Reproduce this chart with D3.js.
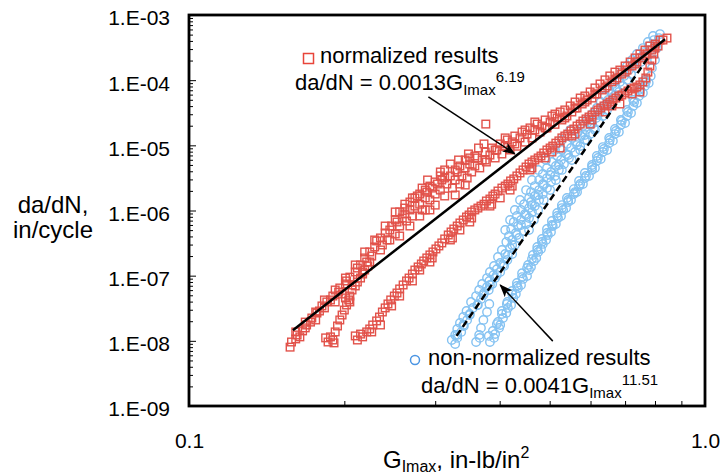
<!DOCTYPE html>
<html>
<head>
<meta charset="utf-8">
<script src="https://cdn.jsdelivr.net/npm/d3@7"></script>
<style>
  body { margin: 0; background: #fff; }
  text { font-family: "Liberation Sans", Arial, Helvetica, sans-serif; fill: #000; }
</style>
</head>
<body>
<div id="chart"></div>
<script>
// values, [G_Imax (in-lb/in^2), da/dN (in/cycle)]

// normalized results, upper band
var normBandA = [[0.157,8.0e-9],[0.158,9.6e-9],[0.161,1.07e-8],[0.162,1.23e-8],[0.164,1.15e-8],[0.166,1.42e-8],[0.168,1.58e-8],[0.169,1.75e-8],[0.172,1.94e-8],[0.173,2.24e-8],[0.176,2.09e-8],[0.177,2.67e-8],[0.179,2.87e-8],[0.181,3.43e-8],[0.183,3.2e-8],[0.185,3.95e-8],[0.188,4.24e-8],[0.190,4.87e-8],[0.192,3.95e-8],[0.195,5.6e-8],[0.196,6.47e-8],[0.198,5.23e-8],[0.201,7.46e-8],[0.202,8.3e-8],[0.205,9.5e-8],[0.207,7.2e-8],[0.210,1.14e-7],[0.212,1.31e-7],[0.215,1.46e-7],[0.217,1.14e-7],[0.219,1.87e-7],[0.221,1.62e-7],[0.224,2.31e-7],[0.226,2.0e-7],[0.229,2.76e-7],[0.231,3.41e-7],[0.235,3.79e-7],[0.237,2.96e-7],[0.240,4.52e-7],[0.242,3.53e-7],[0.245,5.02e-7],[0.247,5.78e-7],[0.251,4.36e-7],[0.253,6.66e-7],[0.256,5.78e-7],[0.259,7.67e-7],[0.262,8.84e-7],[0.264,6.9e-7],[0.268,1.02e-6],[0.271,8.23e-7],[0.274,1.17e-6],[0.277,1.67e-6],[0.280,1.25e-6],[0.283,1.02e-6],[0.287,1.56e-6],[0.289,1.92e-6],[0.293,1.45e-6],[0.296,2.21e-6],[0.300,1.79e-6],[0.303,2.55e-6],[0.307,2.06e-6],[0.309,2.94e-6],[0.313,1.67e-6],[0.316,2.55e-6],[0.321,3.39e-6],[0.324,2.21e-6],[0.328,2.94e-6],[0.331,3.9e-6],[0.335,2.55e-6],[0.338,3.39e-6],[0.343,4.5e-6],[0.346,3.15e-6],[0.350,5.17e-6],[0.353,3.9e-6],[0.358,4.82e-6],[0.362,6.4e-6],[0.366,4.5e-6],[0.370,5.96e-6],[0.375,7.9e-6],[0.376,2.12e-5],[0.373,1.05e-5],[0.377,5.55e-6],[0.383,7.1e-6],[0.386,9.1e-6],[0.392,6.4e-6],[0.395,8.48e-6],[0.401,1.05e-5],[0.404,7.37e-6],[0.410,9.75e-6],[0.414,1.21e-5],[0.419,8.48e-6],[0.423,1.13e-5],[0.428,1.39e-5],[0.432,9.7e-6],[0.438,1.3e-5],[0.442,1.6e-5],[0.448,1.12e-5],[0.452,1.49e-5],[0.458,1.85e-5],[0.462,1.3e-5],[0.468,1.72e-5],[0.473,2.12e-5],[0.479,1.6e-5],[0.483,1.98e-5],[0.490,2.45e-5],[0.494,1.85e-5],[0.501,2.28e-5],[0.505,2.82e-5],[0.512,2.1e-5],[0.517,2.63e-5],[0.524,3.25e-5],[0.528,2.45e-5],[0.535,3.49e-5],[0.540,2.82e-5],[0.548,4.02e-5],[0.552,3.25e-5],[0.560,4.62e-5],[0.565,3.74e-5],[0.573,5.32e-5],[0.578,4.31e-5],[0.585,5.72e-5],[0.591,4.96e-5],[0.599,6.59e-5],[0.604,5.32e-5],[0.612,7.59e-5],[0.617,6.14e-5],[0.626,8.74e-5],[0.632,7.07e-5],[0.640,1.01e-4],[0.646,8.15e-5],[0.654,1.16e-4],[0.660,9.4e-5],[0.669,1.33e-4],[0.675,1.08e-4],[0.684,1.43e-4],[0.690,1.24e-4],[0.700,1.65e-4],[0.706,1.43e-4],[0.716,1.9e-4],[0.722,1.65e-4],[0.732,2.19e-4],[0.738,1.9e-4],[0.748,2.52e-4],[0.755,2.19e-4],[0.765,2.9e-4],[0.772,2.52e-4],[0.782,3.34e-4],[0.789,2.9e-4],[0.800,3.58e-4],[0.811,3.34e-4],[0.818,4.13e-4],[0.829,4.13e-4],[0.844,4.43e-4],
  [0.313,4.19e-6],[0.328,1.73e-6],[0.343,2.46e-6],[0.300,1.21e-6],[0.287,1.02e-6],[0.251,9.5e-7],[0.262,1.25e-6],[0.271,1.56e-6],[0.283,2.21e-6],[0.290,2.94e-6],[0.307,3.9e-6],[0.321,5.17e-6],[0.333,5.96e-6],[0.348,7.37e-6],[0.364,9.1e-6],[0.245,3.53e-7],[0.256,4.06e-7],[0.268,5.78e-7],[0.280,8.23e-7],[0.293,1.02e-6],[0.235,2.48e-7],
  [0.161,1.37e-8],[0.168,1.94e-8],[0.176,2.77e-8],[0.183,4.24e-8],[0.192,6.03e-8],[0.201,9.2e-8],[0.210,1.46e-7],[0.219,2.31e-7],[0.229,3.53e-7],[0.240,5.78e-7],[0.251,7.15e-7],[0.262,1.09e-6],[0.274,1.56e-6],[0.287,2.06e-6],[0.300,2.74e-6],[0.313,3.15e-6],[0.328,4.19e-6],[0.343,5.96e-6],[0.358,6.86e-6],[0.375,5.96e-6],[0.392,8.48e-6],[0.410,1.3e-5],[0.428,1.05e-5],[0.448,1.72e-5],[0.468,2.28e-5],[0.490,1.85e-5],[0.512,3.02e-5],[0.535,2.63e-5],[0.560,3.74e-5],[0.585,4.62e-5],[0.612,6.14e-5],[0.640,7.59e-5],[0.669,1.01e-4],[0.700,1.33e-4],[0.732,1.77e-4],[0.765,2.35e-4],[0.800,3.11e-4],
  [0.307,3.39e-6],[0.335,4.82e-6],[0.350,6.4e-6],[0.293,2.37e-6],[0.280,1.79e-6],[0.268,1.35e-6],[0.256,9.5e-7]]

// normalized results, short band joining the upper one
var normBandB = [[0.186,9.6e-9],[0.188,1.15e-8],[0.190,1.03e-8],[0.192,1.37e-8],[0.194,1.69e-8],[0.196,2.09e-8],[0.198,2.49e-8],[0.200,2.97e-8],[0.202,3.55e-8],[0.204,4.24e-8],[0.205,4.87e-8],[0.207,6.03e-8],[0.210,6.95e-8],[0.212,8.0e-8],[0.215,9.2e-8],[0.217,1.06e-7],[0.219,1.22e-7],[0.222,1.41e-7],[0.224,1.62e-7],[0.184,1.11e-8],[0.191,9.3e-9],[0.201,4.55e-8],[0.205,3.95e-8]]

// normalized results, lower band
var normBandC = [[0.210,1.19e-8],[0.212,1.03e-8],[0.215,1.27e-8],[0.217,1.15e-8],[0.221,1.37e-8],[0.224,1.52e-8],[0.227,1.75e-8],[0.231,2.02e-8],[0.234,2.32e-8],[0.237,2.77e-8],[0.240,3.2e-8],[0.243,3.68e-8],[0.246,4.24e-8],[0.250,4.87e-8],[0.253,5.42e-8],[0.256,6.25e-8],[0.260,7.2e-8],[0.264,8.3e-8],[0.267,9.2e-8],[0.271,1.06e-7],[0.274,1.22e-7],[0.278,1.36e-7],[0.282,1.51e-7],[0.285,1.68e-7],[0.289,1.87e-7],[0.293,2.08e-7],[0.297,2.31e-7],[0.301,2.57e-7],[0.305,2.86e-7],[0.309,3.18e-7],[0.313,3.66e-7],[0.318,4.21e-7],[0.322,4.68e-7],[0.326,5.2e-7],[0.331,5.78e-7],[0.335,6.43e-7],[0.340,7.15e-7],[0.345,7.95e-7],[0.349,8.53e-7],[0.353,9.5e-7],[0.358,1.02e-6],[0.363,1.09e-6],[0.368,1.17e-6],[0.373,1.25e-6],[0.377,1.4e-6],[0.383,1.5e-6],[0.388,1.67e-6],[0.392,1.79e-6],[0.397,1.99e-6],[0.404,2.21e-6],[0.410,2.37e-6],[0.415,2.55e-6],[0.420,2.84e-6],[0.426,3.05e-6],[0.432,3.39e-6],[0.438,3.77e-6],[0.444,4.19e-6],[0.450,4.65e-6],[0.456,5.17e-6],[0.462,5.55e-6],[0.468,5.96e-6],[0.475,6.4e-6],[0.481,6.86e-6],[0.487,7.63e-6],[0.494,8.48e-6],[0.501,9.1e-6],[0.507,9.75e-6],[0.514,1.08e-5],[0.521,1.17e-5],[0.528,1.3e-5],[0.535,1.39e-5],[0.542,1.49e-5],[0.550,1.66e-5],[0.557,1.78e-5],[0.565,1.98e-5],[0.573,2.12e-5],[0.580,2.36e-5],[0.588,2.54e-5],[0.596,2.72e-5],[0.604,2.92e-5],[0.612,3.25e-5],[0.620,3.49e-5],[0.628,3.74e-5],[0.637,4.02e-5],[0.646,4.31e-5],[0.654,4.62e-5],[0.663,4.96e-5],[0.672,5.32e-5],[0.681,5.72e-5],[0.690,5.93e-5],[0.700,6.36e-5],[0.709,6.82e-5],[0.719,7.32e-5],[0.729,7.59e-5],[0.738,7.87e-5],[0.748,8.44e-5],[0.758,9.4e-5],[0.768,1.08e-4],[0.775,1.33e-4],[0.782,1.65e-4],[0.789,2.04e-4],[0.796,2.52e-4],
  [0.293,1.62e-7],[0.321,3.53e-7],[0.350,6.66e-7],[0.383,1.17e-6],[0.419,2.06e-6],[0.458,4.19e-6],[0.524,9.1e-6],[0.599,2.12e-5],[0.684,4.31e-5],[0.748,6.59e-5],[0.256,4.87e-8],[0.235,1.75e-8],[0.280,1.22e-7],[0.335,5.02e-7],[0.401,1.56e-6],[0.490,6.4e-6],[0.560,1.49e-5],[0.640,3.25e-5],
  [0.226,1.37e-8],[0.247,3.43e-8],[0.271,8.3e-8],[0.296,1.87e-7],[0.324,3.79e-7],[0.353,7.67e-7],[0.386,1.25e-6],[0.423,2.37e-6],[0.462,4.5e-6],[0.505,7.9e-6],[0.552,1.39e-5],[0.604,2.45e-5],[0.660,4.02e-5],[0.722,6.14e-5]]

// non-normalized results, left band
var rawBandD = [[0.328,8.94e-9],[0.323,1.03e-8],[0.331,1.11e-8],[0.328,1.23e-8],[0.337,1.37e-8],[0.331,1.52e-8],[0.341,1.69e-8],[0.335,1.88e-8],[0.346,2.09e-8],[0.340,2.32e-8],[0.350,2.58e-8],[0.345,2.87e-8],[0.355,3.2e-8],[0.363,3.55e-8],[0.352,3.95e-8],[0.368,4.39e-8],[0.360,4.87e-8],[0.373,5.42e-8],[0.365,6.03e-8],[0.381,6.03e-8],[0.378,6.7e-8],[0.370,7.46e-8],[0.387,7.46e-8],[0.382,8.3e-8],[0.392,9.2e-8],[0.378,9.2e-8],[0.389,1.02e-7],[0.401,1.14e-7],[0.383,1.14e-7],[0.395,1.26e-7],[0.408,1.41e-7],[0.390,1.41e-7],[0.401,1.57e-7],[0.414,1.74e-7],[0.397,1.94e-7],[0.410,2.15e-7],[0.423,2.15e-7],[0.404,2.48e-7],[0.419,2.66e-7],[0.428,2.96e-7],[0.412,3.29e-7],[0.423,3.53e-7],[0.436,3.79e-7],[0.417,4.06e-7],[0.430,4.52e-7],[0.446,4.85e-7],[0.421,5.2e-7],[0.434,5.78e-7],[0.450,6.2e-7],[0.426,6.66e-7],[0.440,7.15e-7],[0.456,7.67e-7],[0.432,8.23e-7],[0.448,8.84e-7],[0.462,9.5e-7],[0.440,1.02e-6],[0.456,1.09e-6],[0.468,1.17e-6],[0.446,1.25e-6],[0.460,1.35e-6],[0.477,1.45e-6],[0.456,1.56e-6],[0.468,1.67e-6],[0.485,1.79e-6],[0.460,1.92e-6],[0.477,2.06e-6],[0.494,2.21e-6],[0.468,2.37e-6],[0.485,2.55e-6],[0.503,2.74e-6],[0.477,2.94e-6],[0.494,3.15e-6],[0.512,3.39e-6],[0.485,3.64e-6],[0.503,3.9e-6],[0.521,4.19e-6],[0.494,4.5e-6],[0.514,4.82e-6],[0.533,5.17e-6],[0.505,5.55e-6],[0.526,5.96e-6],[0.545,6.4e-6],[0.517,6.86e-6],[0.538,7.37e-6],[0.560,7.9e-6],[0.528,8.48e-6],[0.550,9.1e-6],[0.573,9.75e-6],[0.540,1.05e-5],[0.562,1.13e-5],[0.585,1.21e-5],[0.552,1.3e-5],[0.575,1.39e-5],[0.599,1.49e-5],[0.567,1.6e-5],[0.588,1.72e-5],[0.609,1.85e-5],[0.580,1.98e-5],[0.604,2.12e-5],[0.623,2.28e-5],[0.591,2.45e-5],[0.615,2.63e-5],[0.634,2.82e-5],[0.604,3.02e-5],[0.626,3.25e-5],[0.646,3.49e-5],[0.617,3.74e-5],[0.637,4.02e-5],[0.657,4.31e-5],[0.628,4.62e-5],[0.649,4.96e-5],[0.669,5.32e-5],[0.640,5.72e-5],[0.660,6.14e-5],[0.681,6.59e-5],[0.652,7.07e-5],[0.672,7.59e-5],[0.693,8.15e-5],[0.663,8.74e-5],[0.684,9.4e-5],[0.706,1.01e-4],[0.675,1.08e-4],[0.697,1.16e-4],[0.719,1.24e-4],[0.690,1.33e-4],[0.712,1.43e-4],[0.735,1.53e-4],[0.706,1.65e-4],[0.729,1.77e-4],[0.751,1.9e-4],[0.722,2.04e-4],[0.745,2.19e-4],[0.768,2.35e-4],[0.738,2.52e-4],[0.761,2.7e-4],[0.785,2.9e-4],[0.758,3.11e-4],[0.778,3.34e-4],[0.804,3.58e-4],[0.775,3.85e-4],[0.796,4.13e-4],[0.814,4.43e-4],[0.793,4.76e-4],[0.818,5.1e-4],
  [0.331,1.23e-8],[0.340,1.75e-8],[0.350,2.49e-8],[0.362,3.55e-8],[0.372,5.05e-8],[0.383,7.2e-8],[0.395,1.02e-7],[0.406,1.46e-7],[0.415,2.08e-7],[0.423,2.96e-7],[0.432,4.21e-7],[0.440,5.99e-7],[0.450,8.53e-7],[0.462,1.21e-6],[0.475,1.73e-6],[0.487,2.46e-6],[0.501,3.51e-6],[0.521,4.99e-6],[0.543,7.11e-6],[0.565,1.01e-5],[0.585,1.44e-5],[0.599,2.05e-5],[0.620,2.92e-5],[0.646,4.16e-5],[0.669,5.93e-5],
  [0.410,5.02e-7],[0.419,7.15e-7],[0.428,1.02e-6],[0.438,1.45e-6],[0.450,2.06e-6],[0.462,2.94e-6],[0.475,4.19e-6],[0.492,5.96e-6],[0.512,8.48e-6],[0.528,1.21e-5],[0.548,1.72e-5],
  [0.456,5.02e-7],[0.466,7.15e-7],[0.475,1.02e-6],[0.487,1.45e-6],[0.501,2.06e-6],[0.514,2.94e-6],[0.528,4.19e-6],[0.552,5.96e-6],[0.573,8.48e-6],[0.591,1.21e-5],[0.612,1.72e-5]]

// non-normalized results, right band
var rawBandE = [[0.383,9.6e-9],[0.390,1.11e-8],[0.388,1.42e-8],[0.399,1.58e-8],[0.397,1.95e-8],[0.406,2.24e-8],[0.404,2.87e-8],[0.415,3.2e-8],[0.414,3.95e-8],[0.425,4.55e-8],[0.423,5.82e-8],[0.434,6.47e-8],[0.432,7.73e-8],[0.444,8.9e-8],[0.442,1.09e-7],[0.456,1.22e-7],[0.454,1.46e-7],[0.466,1.68e-7],[0.464,2.08e-7],[0.475,2.31e-7],[0.473,2.76e-7],[0.485,3.07e-7],[0.483,3.66e-7],[0.496,4.21e-7],[0.494,5.2e-7],[0.507,5.78e-7],[0.505,6.9e-7],[0.519,7.67e-7],[0.517,9.15e-7],[0.531,1.02e-6],[0.528,1.21e-6],[0.543,1.35e-6],[0.540,1.56e-6],[0.557,1.79e-6],[0.557,2.13e-6],[0.570,2.37e-6],[0.570,2.84e-6],[0.585,3.15e-6],[0.585,3.77e-6],[0.604,4.19e-6],[0.604,4.99e-6],[0.617,5.75e-6],[0.617,6.86e-6],[0.634,7.9e-6],[0.634,9.4e-6],[0.652,1.08e-5],[0.652,1.3e-5],[0.669,1.49e-5],[0.669,1.78e-5],[0.687,2.05e-5],[0.687,2.45e-5],[0.706,2.82e-5],[0.706,3.49e-5],[0.726,4.02e-5],[0.726,4.96e-5],[0.745,5.72e-5],[0.745,7.07e-5],[0.765,8.15e-5],[0.765,1.01e-4],[0.785,1.16e-4],[0.789,1.53e-4],[0.800,2.04e-4],[0.807,3.11e-4],
  [0.392,1.27e-8],[0.401,1.75e-8],[0.412,2.67e-8],[0.421,3.55e-8],[0.430,5.23e-8],[0.440,7.2e-8],[0.452,9.85e-8],[0.460,1.36e-7],[0.471,1.87e-7],[0.481,2.57e-7],[0.492,3.53e-7],[0.503,4.68e-7],[0.514,6.2e-7],[0.526,8.23e-7],[0.538,1.09e-6],[0.550,1.45e-6],[0.565,1.92e-6],[0.580,2.55e-6],[0.596,3.39e-6],[0.612,4.5e-6],[0.628,6.17e-6],[0.646,8.48e-6],[0.663,1.17e-5],[0.681,1.6e-5],[0.700,2.2e-5],[0.719,3.13e-5],[0.738,4.46e-5],[0.758,6.36e-5],[0.778,9.06e-5],
  [0.381,1.19e-8],[0.395,1.81e-8],[0.404,2.58e-8],[0.413,3.68e-8],[0.423,5.23e-8],[0.432,6.95e-8],[0.442,9.5e-8],[0.452,1.31e-7],[0.462,1.8e-7],[0.473,2.48e-7],[0.483,3.29e-7],[0.494,4.52e-7],[0.505,5.99e-7],[0.517,8.23e-7],[0.528,1.09e-6],[0.543,1.45e-6],[0.560,1.92e-6],[0.573,2.55e-6],[0.588,3.39e-6],[0.604,4.65e-6],[0.620,6.4e-6],[0.637,8.78e-6],[0.654,1.21e-5],[0.672,1.66e-5],[0.690,2.36e-5],[0.709,3.25e-5],[0.729,4.62e-5],[0.748,6.59e-5],[0.768,9.4e-5]]

// non-normalized results, short middle band
var rawBandF = [[0.360,9.6e-9],[0.365,1.23e-8],[0.368,1.58e-8],[0.372,2.09e-8],[0.378,2.77e-8],[0.382,3.68e-8],[0.366,1.11e-8]]

// power law fit lines, end points
var normFit = [[0.159, 1.45e-8], [0.837, 4.25e-4]]
var rawFit = [[0.330, 1.19e-8], [0.782, 2.43e-4]]

// arrows of the two annotations: [from, to]
var normArrow = [[0.291, 5.53e-5], [0.428, 7.4e-6]]
var rawArrow = [[0.507, 9.9e-9], [0.401, 7.2e-8]]

var xLabels = [0.1, 1]
var yLabels = [1e-9, 1e-8, 1e-7, 1e-6, 1e-5, 1e-4, 1e-3]

var W = 722, H = 476
var margin = { top: 15, right: 17, bottom: 70, left: 189 }
var red = '#e2524a', blue = '#84c2f2'

var svg = d3.select('#chart').append('svg')
  .attr('width', W).attr('height', H)

var x = d3.scaleLog().domain([0.1, 1]).range([margin.left, W - margin.right])
var y = d3.scaleLog().domain([1e-9, 1e-3]).range([H - margin.bottom, margin.top])

// minor / major ticks pointing inwards
var yMinor = y.ticks().filter(function(d) { return yLabels.indexOf(d) < 0 })
svg.append('g').attr('transform', 'translate(' + margin.left + ',0)')
  .call(d3.axisRight(y).tickValues(yMinor).tickSize(4).tickFormat(''))
  .call(function(g) { g.select('.domain').remove() })
svg.append('g').attr('transform', 'translate(' + margin.left + ',0)')
  .call(d3.axisRight(y).tickValues(yLabels).tickSize(7).tickFormat(''))
  .call(function(g) { g.select('.domain').remove() })
var xMinor = x.ticks().filter(function(d) { return d > 0.15 && d < 0.95 })
svg.append('g').attr('transform', 'translate(0,' + y(1e-9) + ')')
  .call(d3.axisTop(x).tickValues(xMinor).tickSize(5).tickFormat(''))
  .call(function(g) { g.select('.domain').remove() })

// tick labels
var yAxis = svg.append('g').attr('transform', 'translate(' + margin.left + ',0)')
  .call(d3.axisLeft(y).tickValues(yLabels).tickSize(0).tickPadding(19)
    .tickFormat(function(d) { return '1.E-' + String(Math.round(-Math.log10(d))).padStart(2, '0') }))
yAxis.select('.domain').remove()
yAxis.attr('font-size', 21).attr('font-family', null)
yAxis.selectAll('text').attr('dy', '0.47em').attr('fill', '#000')

var xAxis = svg.append('g').attr('transform', 'translate(0,' + y(1e-9) + ')')
  .call(d3.axisBottom(x).tickValues(xLabels).tickSize(0).tickPadding(27)
    .tickFormat(d3.format('.1f')))
xAxis.select('.domain').remove()
xAxis.attr('font-size', 21).attr('font-family', null)
xAxis.selectAll('text').attr('fill', '#000')

// data marks: blue circles first, red squares over them
var rawAll = rawBandD.concat(rawBandF, rawBandE)
svg.append('g').selectAll('circle')
  .data(rawAll).enter().append('circle')
  .attr('cx', function(d) { return x(d[0]) })
  .attr('cy', function(d) { return y(d[1]) })
  .attr('r', 4.2)
  .attr('fill', 'none')
  .attr('stroke', blue)
  .attr('stroke-width', 1.4)

var normAll = normBandA.concat(normBandB, normBandC)
var sq = 7.6
svg.append('g').selectAll('rect')
  .data(normAll).enter().append('rect')
  .attr('x', function(d) { return x(d[0]) - sq / 2 })
  .attr('y', function(d) { return y(d[1]) - sq / 2 })
  .attr('width', sq).attr('height', sq)
  .attr('fill', 'none')
  .attr('stroke', red)
  .attr('stroke-width', 1.4)

// fit lines
var line = d3.line().x(function(d) { return x(d[0]) }).y(function(d) { return y(d[1]) })
svg.append('path').datum(normFit).attr('d', line)
  .attr('stroke', '#000').attr('stroke-width', 2.5).attr('fill', 'none')
svg.append('path').datum(rawFit).attr('d', line)
  .attr('stroke', '#000').attr('stroke-width', 2.5).attr('fill', 'none')
  .attr('stroke-dasharray', '7,4')

// frame
svg.append('rect')
  .attr('x', margin.left).attr('y', margin.top)
  .attr('width', W - margin.right - margin.left)
  .attr('height', H - margin.bottom - margin.top)
  .attr('fill', 'none').attr('stroke', '#000').attr('stroke-width', 2.8)

// arrows
svg.append('defs').append('marker')
  .attr('id', 'head').attr('markerUnits', 'userSpaceOnUse')
  .attr('markerWidth', 14).attr('markerHeight', 12)
  .attr('refX', 12).attr('refY', 5).attr('orient', 'auto')
  .append('path').attr('d', 'M0,0 L13,5 L0,10 L3,5 z').attr('fill', '#000')
;[normArrow, rawArrow].forEach(function(a) {
  svg.append('path').datum(a).attr('d', line)
    .attr('stroke', '#000').attr('stroke-width', 1.5).attr('fill', 'none')
    .attr('marker-end', 'url(#head)')
})

// annotation for normalized results
svg.append('rect').attr('x', 303.5).attr('y', 53.5).attr('width', 10).attr('height', 10)
  .attr('fill', 'none').attr('stroke', '#e8453a').attr('stroke-width', 1.5)
svg.append('text').attr('x', 320).attr('y', 63).attr('font-size', 22).text('normalized results')
var t1 = svg.append('text').attr('x', 295).attr('y', 90).attr('font-size', 22)
t1.append('tspan').text('da/dN = 0.0013G')
t1.append('tspan').attr('font-size', 15).attr('dy', 5).text('Imax')
t1.append('tspan').attr('font-size', 15).attr('dy', -13).text('6.19')

// annotation for non-normalized results
svg.append('circle').attr('cx', 415).attr('cy', 360).attr('r', 4.5)
  .attr('fill', 'none').attr('stroke', '#4b95e3').attr('stroke-width', 1.5)
svg.append('text').attr('x', 428).attr('y', 365).attr('font-size', 22).text('non-normalized results')
var t2 = svg.append('text').attr('x', 421).attr('y', 393).attr('font-size', 22)
t2.append('tspan').text('da/dN = 0.0041G')
t2.append('tspan').attr('font-size', 15).attr('dy', 5).text('Imax')
t2.append('tspan').attr('font-size', 15).attr('dy', -13).text('11.51')

// axis titles
var yt = svg.append('text').attr('text-anchor', 'middle').attr('font-size', 24)
yt.append('tspan').attr('x', 53).attr('y', 213).text('da/dN,')
yt.append('tspan').attr('x', 53).attr('y', 238).text('in/cycle')

var xt = svg.append('text').attr('x', 383).attr('y', 468).attr('font-size', 24)
xt.append('tspan').text('G')
xt.append('tspan').attr('font-size', 16).attr('dy', 4).text('Imax')
xt.append('tspan').attr('dy', -4).text(', in-lb/in')
xt.append('tspan').attr('font-size', 16).attr('dy', -10).text('2')
</script>
</body>
</html>
